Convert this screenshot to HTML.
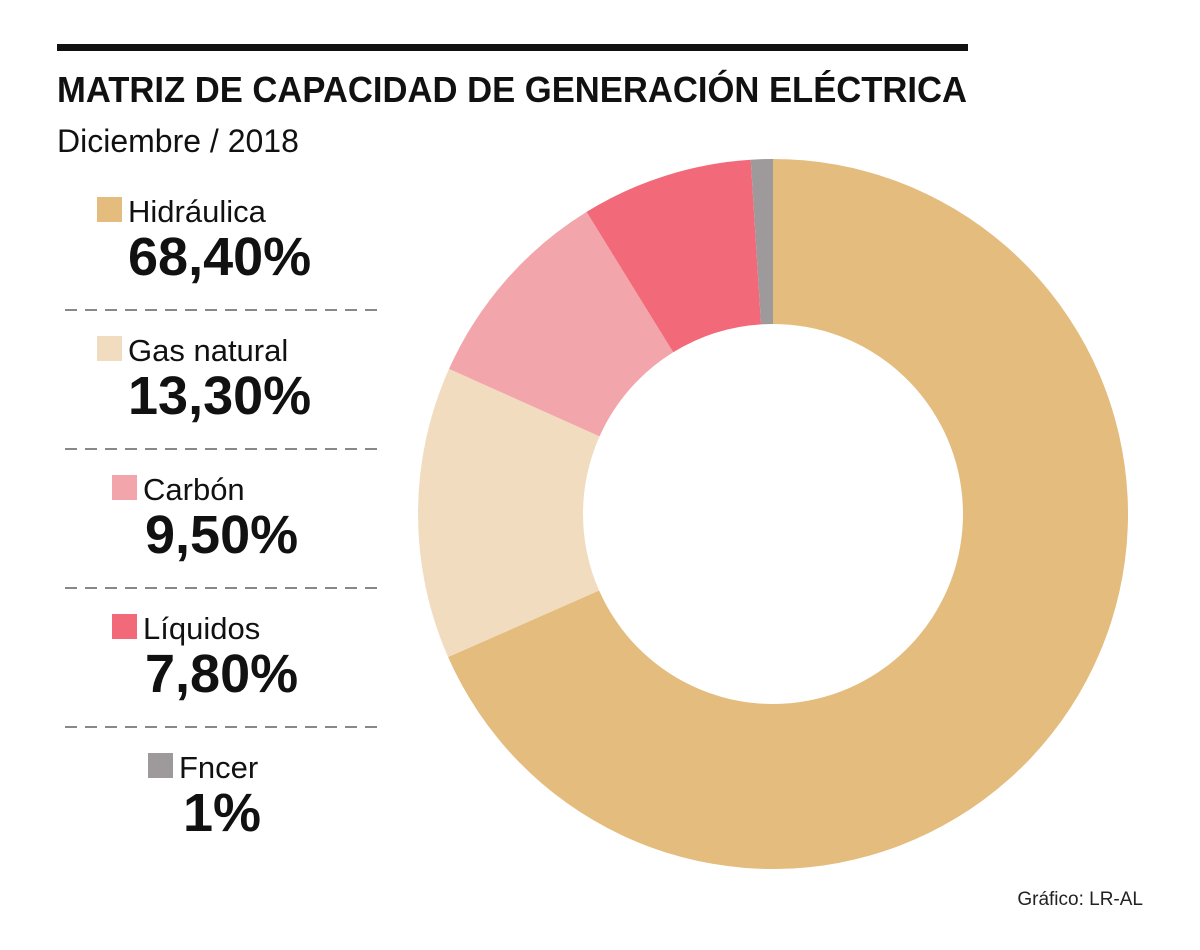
<!DOCTYPE html>
<html><head><meta charset="utf-8"><style>
html,body{margin:0;padding:0;background:#fff;}
svg{display:block;font-family:"Liberation Sans",sans-serif;}
</style></head><body>
<svg id="chart" width="1200" height="950" viewBox="0 0 1200 950">
<rect x="57" y="44" width="911" height="7" fill="#111"/>
<text x="57" y="102" font-size="36" font-weight="bold" fill="#111" textLength="910" lengthAdjust="spacingAndGlyphs">MATRIZ DE CAPACIDAD DE GENERACIÓN ELÉCTRICA</text>
<text x="57" y="152" font-size="32" fill="#111">Diciembre / 2018</text>
<g id="slices"></g>
<g id="legend"></g>
<text x="1143" y="905" font-size="19" fill="#222" text-anchor="end">Gráfico: LR-AL</text>
</svg>
<script>
const categories = ["Hidráulica","Gas natural","Carbón","Líquidos","Fncer"];
const values = [68.4,13.3,9.5,7.8,1];
const valueLabels = ["68,40%","13,30%","9,50%","7,80%","1%"];
const colors = ["#e3bc7e","#f2dcc0","#f2a6ab","#f26a7a","#9e9a9b"];
const NS="http://www.w3.org/2000/svg";
const cx=773, cy=514, R=355, r=190;
const total=values.reduce((a,b)=>a+b,0);
function pt(rad,a){return [cx+rad*Math.sin(a), cy-rad*Math.cos(a)];}
const g=document.getElementById('slices');
let acc=0;
values.forEach((v,i)=>{
  const a0=acc/total*2*Math.PI; acc+=v; const a1=acc/total*2*Math.PI;
  const large=(a1-a0)>Math.PI?1:0;
  const [x0,y0]=pt(R,a0),[x1,y1]=pt(R,a1),[x2,y2]=pt(r,a1),[x3,y3]=pt(r,a0);
  const p=document.createElementNS(NS,'path');
  p.setAttribute('d',`M${x0},${y0}A${R},${R} 0 ${large} 1 ${x1},${y1}L${x2},${y2}A${r},${r} 0 ${large} 0 ${x3},${y3}Z`);
  p.setAttribute('fill',colors[i]);
  
  
  g.appendChild(p);
});
const lg=document.getElementById('legend');
const sqX=[97,97,112,112,148], valX=[128,128,145,145,183];
categories.forEach((c,i)=>{
  const y0=197+i*139;
  const s=document.createElementNS(NS,'rect');
  s.setAttribute('x',sqX[i]);s.setAttribute('y',y0);s.setAttribute('width',25);s.setAttribute('height',25);s.setAttribute('fill',colors[i]);
  
  
  lg.appendChild(s);
  const t=document.createElementNS(NS,'text');
  t.setAttribute('x',sqX[i]+31);t.setAttribute('y',y0+25);t.setAttribute('font-size','31');t.setAttribute('fill','#111');
  t.textContent=c;
  
  
  lg.appendChild(t);
  const v=document.createElementNS(NS,'text');
  v.setAttribute('x',valX[i]);v.setAttribute('y',y0+78);v.setAttribute('font-size','54');v.setAttribute('font-weight','bold');v.setAttribute('fill','#111');
  v.textContent=valueLabels[i];
  
  
  lg.appendChild(v);
  if(i<categories.length-1){
    const l=document.createElementNS(NS,'line');
    const ly=310+i*139;
    l.setAttribute('x1',65);l.setAttribute('x2',383);l.setAttribute('y1',ly);l.setAttribute('y2',ly);
    l.setAttribute('stroke','#888');l.setAttribute('stroke-width','2');l.setAttribute('stroke-dasharray','12 8');
    
    
    lg.appendChild(l);
  }
});
</script>
</body></html>
